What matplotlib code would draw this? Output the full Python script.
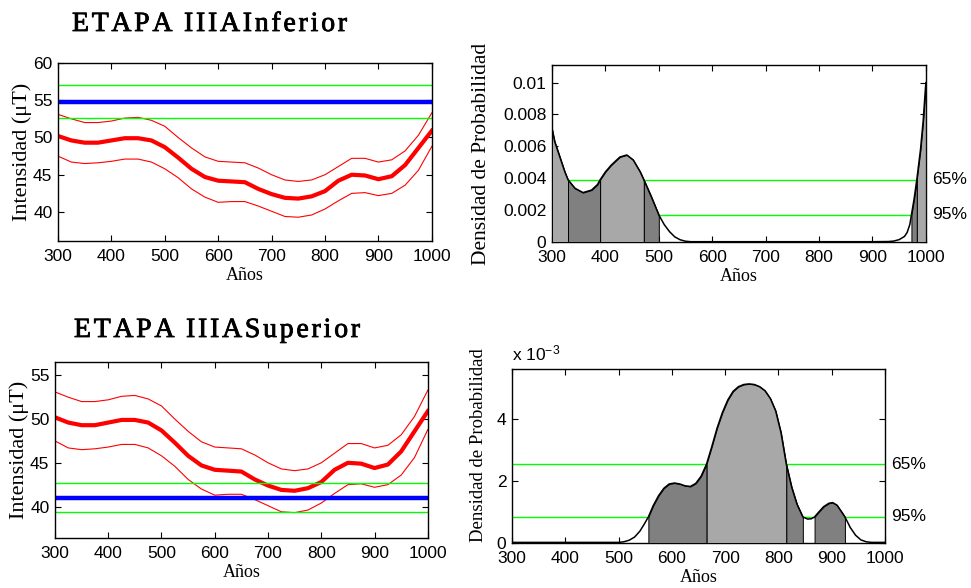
import numpy as np
import matplotlib
matplotlib.use('Agg')
import matplotlib.pyplot as plt
import matplotlib.transforms as mtransforms
import matplotlib.patheffects as pe
from matplotlib.ticker import FuncFormatter

plt.rcParams['font.family'] = 'Liberation Sans'
plt.rcParams['font.size'] = 12.5
plt.rcParams['mathtext.fontset'] = 'custom'
plt.rcParams['mathtext.rm'] = 'Liberation Sans'
plt.rcParams['mathtext.it'] = 'Liberation Sans:italic'

# secular variation curve (mean and error band), years AD
years = [300, 325, 350, 375, 400, 425, 450, 475, 500, 525, 550, 575, 600, 625,
         650, 675, 700, 725, 750, 775, 800, 825, 850, 875, 900, 925, 950, 975, 1000]
curve_mean = [50.2, 49.6, 49.3, 49.3, 49.6, 49.9, 49.9, 49.6, 48.7, 47.3, 45.8, 44.7, 44.2, 44.1,
              44.0, 43.1, 42.4, 41.9, 41.8, 42.1, 42.8, 44.2, 45.0, 44.9, 44.4, 44.8, 46.3, 48.6, 50.9]
curve_upper = [53.1, 52.5, 52.0, 52.0, 52.2, 52.6, 52.7, 52.3, 51.5, 50.0, 48.6, 47.4, 46.8, 46.7,
               46.6, 45.9, 45.0, 44.3, 44.1, 44.3, 45.0, 46.1, 47.2, 47.2, 46.7, 47.0, 48.2, 50.3, 53.3]
curve_lower = [47.5, 46.7, 46.5, 46.6, 46.8, 47.1, 47.1, 46.7, 45.8, 44.6, 43.1, 42.0, 41.3, 41.4,
               41.4, 40.8, 40.1, 39.4, 39.3, 39.6, 40.4, 41.5, 42.5, 42.6, 42.2, 42.5, 43.6, 45.6, 48.8]

# archaeointensity of each stage (value and error)
inf_F, inf_err = 54.8, 2.2
sup_F, sup_err = 41.0, 1.65

# probability density, lower stage
inf_x = [300, 305, 315, 324, 330, 343, 358, 374, 385, 390, 400, 411, 427, 440, 452, 465, 472,
         486, 500, 510, 520, 530, 540, 550, 560, 600, 700, 800, 900, 930, 940, 950, 960,
         965, 970, 973, 978, 983, 990, 995, 1000]
inf_pdf = [0.0071, 0.0063, 0.0053, 0.0044, 0.0039, 0.00337, 0.0031, 0.00326, 0.0036, 0.0039,
           0.0044, 0.00483, 0.00533, 0.00546, 0.00515, 0.00441, 0.0039, 0.00284, 0.0017,
           0.0011, 0.00065, 0.00032, 0.00014, 0.00005, 0.00002, 0.00002, 0.00002, 0.00002,
           0.00002, 0.00003, 0.00006, 0.00015, 0.00035, 0.0006, 0.0011, 0.0017, 0.0027,
           0.0039, 0.0058, 0.0076, 0.0100]
inf_lev65, inf_lev95 = 0.00392, 0.00171
inf_int65 = [(300, 330), (390, 472), (983, 1000)]
inf_int95 = [(330, 390), (472, 500), (973, 983)]

# probability density, upper stage
sup_x = [300, 400, 500, 510, 520, 530, 540, 548, 556, 565, 575, 585, 595, 605, 615, 625, 635,
         645, 655, 665, 675, 685, 695, 705, 715, 725, 735, 745, 755, 765, 775, 785, 795, 805,
         815, 825, 835, 846, 855, 862, 868, 875, 885, 895, 902, 910, 918, 925, 935, 945, 955,
         965, 975, 1000]
sup_pdf = [0.00002, 0.00002, 0.00002, 0.00004, 0.00009, 0.00019, 0.00038, 0.0006, 0.00084,
           0.0012, 0.00152, 0.00176, 0.0019, 0.00193, 0.0019, 0.00184, 0.00182, 0.00192,
           0.00215, 0.00253, 0.0031, 0.0037, 0.0042, 0.0046, 0.00488, 0.00503, 0.0051, 0.00512,
           0.0051, 0.00503, 0.0049, 0.00465, 0.00425, 0.00355, 0.00253, 0.0018, 0.00125,
           0.00084, 0.00077, 0.00078, 0.00084, 0.00098, 0.00117, 0.00128, 0.0013, 0.00122,
           0.00102, 0.00084, 0.0005, 0.00025, 0.0001, 0.00004, 0.00002, 0.00002]
sup_lev65, sup_lev95 = 0.00253, 0.00084
sup_int65 = [(665, 815)]
sup_int95 = [(556, 665), (815, 846), (868, 925)]

LIGHT = '#a8a8a8'
DARK = '#808080'
SERIF = 'Liberation Serif'


def style(ax):
    ax.set_xlim(300, 1000)
    ax.set_xticks(range(300, 1001, 100))
    ax.tick_params(direction='in', top=True, right=True, length=4, width=0.8, pad=4)
    ax.tick_params(axis='x', pad=6)
    for s in ax.spines.values():
        s.set_linewidth(1.0)
    ax.set_xlabel('Años', fontfamily=SERIF, fontsize=13, labelpad=2)


def curve_panel(ax, F, err, ylim, yticks):
    ax.plot(years, curve_upper, color='red', lw=0.8)
    ax.plot(years, curve_lower, color='red', lw=0.8)
    ax.plot(years, curve_mean, color='red', lw=3)
    ax.axhline(F + err, color='#00ff00', lw=1)
    ax.axhline(F - err, color='#00ff00', lw=1)
    ax.axhline(F, color='blue', lw=3.2)
    ax.set_ylim(*ylim)
    ax.set_yticks(yticks)
    style(ax)
    ax.set_ylabel('Intensidad (μT)', fontfamily=SERIF, fontsize=16, labelpad=1)


def shade(ax, x, y, lo, hi, color):
    x = np.asarray(x, float)
    y = np.asarray(y, float)
    inside = (x > lo) & (x < hi)
    xs = np.concatenate([[lo], x[inside], [hi]])
    ys = np.interp(xs, x, y)
    ax.fill_between(xs, 0, ys, facecolor=color, edgecolor='k', lw=0.7, zorder=3)


def pdf_panel(ax, x, pdf, lev65, lev95, int65, int95, ymax):
    ax.axhline(lev65, color='#00ff00', lw=1, zorder=2)
    ax.axhline(lev95, color='#00ff00', lw=1, zorder=2)
    for lo, hi in int65:
        shade(ax, x, pdf, lo, hi, LIGHT)
    for lo, hi in int95:
        shade(ax, x, pdf, lo, hi, DARK)
    ax.plot(x, pdf, color='k', lw=1.1, zorder=4)
    ax.set_ylim(0, ymax)
    style(ax)
    tr = mtransforms.blended_transform_factory(ax.transAxes, ax.transData)
    ax.text(1.018, lev65, '65%', transform=tr, va='center', ha='left')
    ax.text(1.018, lev95, '95%', transform=tr, va='center', ha='left')


def spaced_title(fig, x0, x1, y, s):
    # letter-spaced heading laid out one character at a time between x0 and x1 (pixels)
    r = fig.canvas.get_renderer()
    kw = dict(fontfamily=SERIF, fontsize=20, va='baseline', ha='left',
              path_effects=[pe.withStroke(linewidth=0.6, foreground='black')])
    chars = [fig.text(0, 1 - y / 588, ch, **kw) for ch in s]
    widths = [t.get_window_extent(r).width if ch != ' ' else 6.0 for t, ch in zip(chars, s)]
    gap = (x1 - x0 - sum(widths)) / (len(s) - 1)
    x = x0
    for t, w in zip(chars, widths):
        t.set_x(x / 971)
        x += w + gap


fig = plt.figure(figsize=(9.71, 5.88), dpi=100)

ax1 = fig.add_axes([0.0597, 0.590, 0.385, 0.303])
curve_panel(ax1, inf_F, inf_err, (36.1, 60), [40, 45, 50, 55, 60])

ax2 = fig.add_axes([0.5685, 0.5884, 0.385, 0.301])
pdf_panel(ax2, inf_x, inf_pdf, inf_lev65, inf_lev95, inf_int65, inf_int95, 0.0111)
ax2.set_yticks([0, 0.002, 0.004, 0.006, 0.008, 0.01])
ax2.yaxis.set_major_formatter(FuncFormatter(lambda v, p: '0' if v == 0 else f'{v:g}'))
ax2.set_ylabel('Densidad de Probabilidad', fontfamily=SERIF, fontsize=15.5, labelpad=9)

ax3 = fig.add_axes([0.0566, 0.085, 0.384, 0.299])
curve_panel(ax3, sup_F, sup_err, (36.4, 56.5), [40, 45, 50, 55])

ax4 = fig.add_axes([0.5273, 0.0765, 0.384, 0.296])
pdf_panel(ax4, sup_x, sup_pdf, sup_lev65, sup_lev95, sup_int65, sup_int95, 0.0056)
ax4.set_yticks([0, 0.002, 0.004])
ax4.yaxis.set_major_formatter(FuncFormatter(lambda v, p: f'{v * 1e3:g}'))
ax4.text(0.0, 1.03, r'x 10$^{-3}$', transform=ax4.transAxes, ha='left', va='bottom')
ax4.set_ylabel('Densidad de Probabilidad', fontfamily=SERIF, fontsize=13.5)
ax4.yaxis.set_label_coords(-0.066, 0.56)

spaced_title(fig, 72, 347, 31, 'ETAPA IIIAInferior')
spaced_title(fig, 74, 360, 337, 'ETAPA IIIASuperior')

fig.savefig('out.png', dpi=100)
